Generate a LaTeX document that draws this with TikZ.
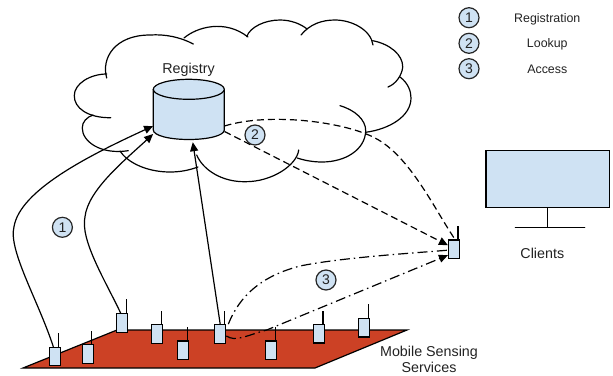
\documentclass[tikz,border=0pt]{standalone}
\usepackage{fontspec}
\setmainfont{Liberation Sans}
\usetikzlibrary{arrows.meta}
\definecolor{lblue}{HTML}{CFE2F3}
\definecolor{plate}{HTML}{CC4125}
\definecolor{ink}{HTML}{222222}
\tikzset{
  line/.style={line width=1.2pt,black,line cap=round,line join=round},
  sensor/.style={draw=black,line width=1.2pt,fill=lblue,rectangle,minimum width=11pt,minimum height=18.5pt,inner sep=0pt},
  antenna/.style={line width=1.2pt,black},
  badge/.style={circle,draw=black!85,line width=1.2pt,fill=lblue,minimum size=20pt,inner sep=0pt,font=\fontsize{14}{14}\selectfont,text=ink},
  lab/.style={font=\fontsize{14.3}{16}\selectfont,text=ink,align=center,inner sep=0pt},
  leg/.style={font=\fontsize{12.4}{14}\selectfont,text=ink,inner sep=0pt,anchor=base},
  tip/.style={-{Triangle[length=9pt,width=8pt]}},
  dsh/.style={line width=1.2pt,dash pattern=on 7pt off 4pt},
  dshdot/.style={line width=1.2pt,dash pattern=on 10pt off 4pt on 1.5pt off 4pt},
}
\begin{document}
\begin{tikzpicture}[x=1pt,y=-1pt]
\useasboundingbox (0,0) rectangle (613,375);
% cloud
\begin{scope}[line]
\draw (106.7,78) .. controls (101,58) and (115,35) .. (150,35) .. controls (165,34) and (180,37) .. (193.3,44);
\draw (184,38) .. controls (197,27) and (225,19) .. (248,37);
\draw (246.7,36.7) .. controls (250,27) and (265,20) .. (280,20) .. controls (291,20) and (301,24) .. (307,29);
\draw (301,35) .. controls (310,24) and (322,20) .. (335,20) .. controls (352,20) and (371,30) .. (373,45);
\draw (372.7,40.7) .. controls (390,44) and (403,55) .. (402.7,67) .. controls (402,75) and (396,84) .. (388,87);
\draw (400,77) .. controls (408,83) and (411,91) .. (411,98) .. controls (411,116) and (390,129) .. (365.7,132.3);
\draw (340,105.7) .. controls (355,110) and (366,120) .. (365.7,131) .. controls (365,150) and (345,162) .. (322,162) .. controls (312,162) and (303,160) .. (297.3,158);
\draw (298.7,150) .. controls (297,165) and (272,182) .. (245,181.7) .. controls (222,182) and (203,170) .. (196.7,155);
\draw (198,167) .. controls (187,171) and (178,172) .. (170,172) .. controls (146,172) and (127,162) .. (120,151);
\draw (128.3,150.7) .. controls (100,155) and (82,141) .. (82.3,128) .. controls (82,122) and (87,117) .. (93,115);
\draw (110.7,117.7) .. controls (88,118) and (74,108) .. (74.3,95.7) .. controls (74,84) and (90,74) .. (106.7,74);
\end{scope}
% registry
\node[lab,anchor=base] (regl) at (188.5,73) {Registry};
\node[rectangle,minimum width=71pt,minimum height=60pt,inner sep=0pt] (reg) at (188.8,109.5) {};
\draw[line,fill=lblue] (153.3,89.3) -- (153.3,130) .. controls (153.3,135.5) and (169.2,139.5) .. (188.8,139.5) .. controls (208.4,139.5) and (224.3,135.5) .. (224.3,130) -- (224.3,89.3);
\draw[line,fill=lblue] (153.3,89.3) .. controls (153.3,83.8) and (169.2,79.3) .. (188.8,79.3) .. controls (208.4,79.3) and (224.3,83.8) .. (224.3,89.3) .. controls (224.3,94.8) and (208.4,99.3) .. (188.8,99.3) .. controls (169.2,99.3) and (153.3,94.8) .. (153.3,89.3) -- cycle;
% plate
\node[coordinate] (pa) at (23,368) {};
\node[coordinate] (pb) at (117,330) {};
\node[coordinate] (pc) at (407,330) {};
\node[coordinate] (pd) at (315,368) {};
\draw[line width=1.2pt,fill=plate,line join=miter] (pa) -- (pb) -- (pc) -- (pd) -- cycle;
% sensors
\foreach \n/\x/\y/\t in {s1/54.8/356.5/333,s2/87.8/354/331,s3/122.2/323/299,s4/157.2/334/311,s5/183.2/350.2/327,s6/220.2/334/311,s7/271.2/350.2/327,s8/319/333.8/311,s9/364.2/327.8/304,cl/454/249.2/226}{
  \draw[antenna] (\x+4,\y) -- (\x+4,\t);
  \node[sensor] (\n) at (\x,\y) {};
}
% connectors
\draw[line,tip] ([xshift=-1.5pt]s1.north) .. controls (38,300) and (8,250) .. (14,226.7) .. controls (20,190) and (90,155) .. ([yshift=-16.5pt]reg.west);
\draw[line,tip] ([xshift=-1.5pt]s3.north) .. controls (105,280) and (80,240) .. (85,216.7) .. controls (88,190) and (125,160) .. ([yshift=-24.5pt]reg.west);
\draw[line,tip] (s6.north) -- ([xshift=4pt,yshift=-2.5pt]reg.south);
\draw[dsh] ([yshift=-16.5pt]reg.east) .. controls (270,112) and (345,122) .. (375,138) .. controls (410,156) and (435,210) .. ([xshift=1pt]cl.north);
\draw[dsh,tip] ([yshift=-22pt]reg.east) -- ([yshift=4pt]cl.west);
\draw[dshdot] ([xshift=2pt]s6.north east) .. controls (240,295) and (262,276) .. (300,266) .. controls (340,258) and (400,254) .. ([yshift=-1pt]cl.west);
\draw[dshdot,tip] ([yshift=-2pt]s6.east) .. controls (236,342) and (245,336) .. (266.7,330) -- ([yshift=-6pt]cl.west);
% labels
\node[badge] (b1) at (62.4,227.3) {1};
\node[badge] (b2) at (255,135) {2};
\node[badge] (b3) at (326,280) {3};
\node[badge] (l1) at (469,17.7) {1};
\node[badge] (l2) at (469,43.3) {2};
\node[badge] (l3) at (469,68.7) {3};
\node[leg] (t1) at (547.3,22.3) {Registration};
\node[leg] (t2) at (547.3,47.7) {Lookup};
\node[leg] (t3) at (547.3,73.3) {Access};
% monitor
\node[draw=black,line width=1.2pt,fill=lblue,rectangle,minimum width=123.5pt,minimum height=57pt,inner sep=0pt] (mon) at (547.8,178.8) {};
\node[coordinate] (ma) at (515.3,227.3) {};
\node[coordinate] (mb) at (584.7,227.3) {};
\draw[line] (mon.south) -- (547.8,227.3);
\draw[line] (ma) -- (mb);
\node[lab,anchor=base] (clients) at (542.3,258.3) {Clients};
\node[lab] (mss) at (429,359) {Mobile Sensing\\Services};
\end{tikzpicture}
\end{document}
